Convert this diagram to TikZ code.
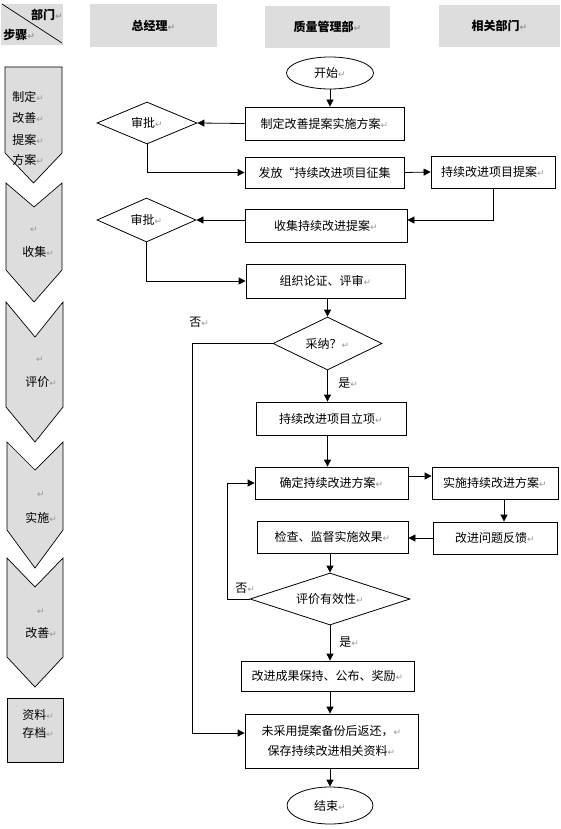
\documentclass[tikz,border=0pt]{standalone}
\usepackage{fontspec}
\setmainfont{Noto Sans CJK SC}
\newfontfamily\symfont{DejaVu Sans}
\usetikzlibrary{shapes.geometric,arrows.meta,positioning}
\definecolor{HeadGray}{RGB}{221,221,221}
\definecolor{MarkGray}{RGB}{150,150,150}
\newcommand{\retmark}{{\symfont\fontsize{9}{9}\selectfont\color{MarkGray}↵}}

\begin{document}
\begin{tikzpicture}[x=1pt,y=-1pt,
  line width=0.8pt,
  font=\fontsize{12}{14}\selectfont,
  >={Triangle[length=7pt,width=7pt]},
  head/.style={fill=HeadGray,inner sep=0pt,font=\fontsize{12}{14}\selectfont\bfseries},
  proc/.style={draw,inner sep=0pt,align=center},
  dec/.style={draw,diamond,inner sep=0pt},
  term/.style={draw,ellipse,inner sep=0pt},
  steptxt/.style={anchor=west,inner sep=0pt},
  stepbox/.style={draw,fill=HeadGray,line width=0.7pt},
]
\useasboundingbox (0,0) rectangle (561,829);

% header row
\node[head,minimum width=62pt,minimum height=41pt] (hcorner) at (32,24.5) {};
\draw[line width=0.7pt] (2,4) -- (62,43);
\node[head,anchor=east] (hdept) at (63,15) {部门\retmark};
\node[head,anchor=west] (hstep) at (3,35) {步骤\retmark};
\node[head,minimum width=127pt,minimum height=43pt] (hgm) at (153.5,25.5) {总经理\retmark};
\node[head,minimum width=125pt,minimum height=42pt] (hqm) at (327.5,27) {质量管理部\retmark};
\node[head,minimum width=121pt,minimum height=42pt] (hrel) at (499.5,26) {相关部门\retmark};

% step column
\draw[stepbox] (5,67) -- (62,67) -- (62,153) -- (33.5,183) -- (5,153) -- cycle;
\draw[stepbox] (6,183) -- (34,207) -- (62,183) -- (62,270) -- (34,302) -- (6,270) -- cycle;
\draw[stepbox] (6,302) -- (35,337) -- (63,302) -- (63,407) -- (35,442) -- (6,407) -- cycle;
\draw[stepbox] (7,442) -- (35,470) -- (63,442) -- (63,530) -- (35,568) -- (7,530) -- cycle;
\draw[stepbox] (7,558) -- (35,587) -- (63,558) -- (63,657) -- (35,687) -- (7,657) -- cycle;
\draw[stepbox] (7,698) rectangle (63,762);
\node[steptxt] (s1a) at (12,97) {制定\retmark};
\node[steptxt] (s1b) at (12,118) {改善\retmark};
\node[steptxt] (s1c) at (12,140) {提案\retmark};
\node[steptxt] (s1d) at (12,160) {方案\retmark};
\node (s2a) at (34,230) {\retmark};
\node[steptxt] (s2b) at (22,252) {收集\retmark};
\node (s3a) at (40,360) {\retmark};
\node[steptxt] (s3b) at (25,382) {评价\retmark};
\node (s4a) at (41,495) {\retmark};
\node[steptxt] (s4b) at (25,518) {实施\retmark};
\node (s5a) at (41,612) {\retmark};
\node[steptxt] (s5b) at (25,633) {改善\retmark};
\node[steptxt] (s6a) at (22,715) {资料\retmark};
\node[steptxt] (s6b) at (22,733) {存档\retmark};

% flow
\node[term,minimum width=87pt,minimum height=32pt] (start) at (330,73) {开始\retmark};
\node[proc,minimum width=159pt,minimum height=33pt] (plan) at (324.5,123.5) {制定改善提案实施方案\retmark};
\node[dec,aspect=2.4,minimum width=100pt,minimum height=42pt] (okA) at (147,123) {审批\retmark};
\node[proc,minimum width=159pt,minimum height=31pt] (issue) at (324.5,172.5) {发放“持续改进项目征集};
\node[proc,minimum width=124pt,minimum height=32pt] (propose) at (493,172) {持续改进项目提案\retmark};
\node[proc,minimum width=162pt,minimum height=33pt] (collect) at (326,225.5) {收集持续改进提案\retmark};
\node[dec,aspect=2.25,minimum width=99pt,minimum height=44pt] (okB) at (146.5,220) {审批\retmark};
\node[proc,minimum width=159pt,minimum height=34pt] (review) at (325.5,281) {组织论证、评审\retmark};
\node[dec,aspect=2.05,minimum width=109pt,minimum height=53pt] (adopt) at (327.5,343.5) {采纳？\retmark};
\node[proc,minimum width=150pt,minimum height=33pt] (launch) at (331,418.5) {持续改进项目立项\retmark};
\node[proc,minimum width=153pt,minimum height=32pt] (fix) at (331.5,483) {确定持续改进方案\retmark};
\node[proc,minimum width=126pt,minimum height=32pt] (run) at (495,483) {实施持续改进方案\retmark};
\node[proc,minimum width=124pt,minimum height=32pt] (feedback) at (495,538) {改进问题反馈\retmark};
\node[proc,minimum width=151pt,minimum height=32pt] (check) at (332.5,537) {检查、监督实施效果\retmark};
\node[dec,aspect=3,minimum width=160pt,minimum height=52pt] (judge) at (330,599) {评价有效性\retmark};
\node[proc,minimum width=173pt,minimum height=30pt] (keep) at (327.5,676) {改进成果保持、公布、奖励\retmark};
\node[proc,minimum width=173pt,minimum height=54pt,font=\fontsize{12}{20}\selectfont] (archive) at (331.5,741)
  {未采用提案备份后返还，\retmark\\保存持续改进相关资料\retmark};
\node[term,minimum width=86pt,minimum height=37pt] (finish) at (330,805.5) {结束\retmark};

\node[steptxt] (noA) at (189,322) {否\retmark};
\node[steptxt] (yesA) at (338,383) {是\retmark};
\node[steptxt] (noB) at (235,588) {否\retmark};
\node[steptxt] (yesB) at (339,642) {是\retmark};
\coordinate (rejectline) at (192,343.5);
\coordinate (loopline) at (227,599);

\draw[->] (start.south) -- (start.south |- plan.north);
\draw[->] (plan.west) -- (okA.east);
\draw[->] (okA.south) |- (issue.west);
\draw[->] (issue.east) -- (propose.west);
\draw[->] (propose.south) |- (okB.east -| collect.east);
\draw[->] (okB.east -| collect.west) -- (okB.east);
\draw[->] (okB.south) |- (review.west);
\draw[->] (adopt.north |- review.south) -- (adopt.north);
\draw[->] (adopt.south) -- (adopt.south |- launch.north);
\draw[->] (adopt.west) -- (rejectline) |- ([yshift=8pt]archive.west);
\draw[->] (adopt.south |- launch.south) -- (adopt.south |- fix.north);
\draw[->] ([yshift=7pt]fix.east) -- ([yshift=7pt]run.west);
\draw[->] ([xshift=9pt]run.south) -- ([xshift=9pt]feedback.north);
\draw[->] (feedback.west) -- (feedback.west -| check.east);
\draw[->] (judge.north |- check.south) -- (judge.north);
\draw[->] (judge.west) -- (loopline) |- (fix.west);
\draw[->] (judge.south) -- (judge.south |- keep.north);
\draw[->] (judge.south |- keep.south) -- (judge.south |- archive.north);
\draw[->] (archive.south -| finish.north) -- (finish.north);
\end{tikzpicture}
\end{document}
